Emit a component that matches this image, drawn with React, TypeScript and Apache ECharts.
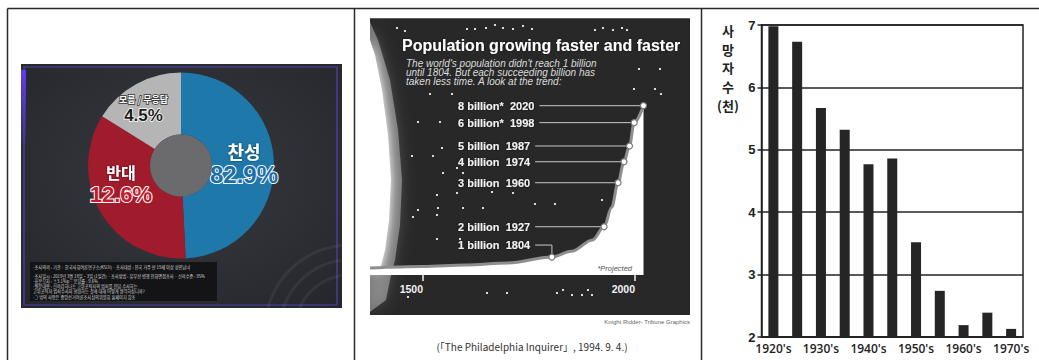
import React, { useEffect, useRef } from "react";
import * as echarts from "echarts";

// ---------- Panel 1: donut (poll) ----------
const pollNames = ["찬성", "반대", "모름 / 무응답"];
const pollPercents = [82.9, 12.6, 4.5];
// share of the ring each slice occupies as drawn in the picture
const pollDrawnShares = [49.2, 34.7, 16.1];
const pollColors = ["#1f78aa", "#a01c2c", "#b5b5b5"];
const footnoteLines = [
  "-조사의뢰 : 기관 · 한국사회여론연구소(KSOI) · 조사대상 : 전국 거주 만 19세 이상 성인남녀",
  "-조사일시 : 2019년 3월 18일 ~ 3일 (1일간) · 조사방법 : 유무선 병행 전화면접조사 · 신뢰수준 : 95%",
  "-표본오차 : ±3.1%p · 응답률 : 9.6%",
  "-질문내용 : 신뢰감하나는 고위공직자의 범죄를 전담 수사하는",
  "고위공직자 범죄수사처 설립하는 것에 대해 어떻게 생각하십니까?",
  "-그 밖의 사항은 중앙선거여론조사심의위원회 홈페이지 참조",
];

// ---------- Panel 2: population curve ----------
const curveYears = [1375, 1500, 1600, 1700, 1804, 1850, 1900, 1927, 1945, 1960, 1974, 1987, 1998, 2020];
// drawn height of the curve (0 = bottom of plot, 100 = top)
const curveLevels = [4.1, 5, 5.9, 7.1, 10.6, 14, 20.7, 28.5, 40, 54.5, 66.9, 76.2, 90, 100];
const milestoneYears = [1804, 1927, 1960, 1974, 1987, 1998, 2020];
const milestoneBillions = [1, 2, 3, 4, 5, 6, 8];
const milestoneProjected = [false, false, false, false, false, true, true];
const popTickYears = [1500, 2000];
const popTitle = "Population growing faster and faster";
const popSubtitle = [
  "The world's population didn't reach 1 billion",
  "until 1804. But each succeeding billion has",
  "taken less time. A look at the trend:",
];

// ---------- Panel 3: bar chart ----------
const periodLabels = ["1920's", "", "1930's", "", "1940's", "", "1950's", "", "1960's", "", "1970's"];
const deathsThousands = [6.98, 6.73, 5.67, 5.32, 4.77, 4.86, 3.52, 2.74, 2.19, 2.39, 2.13];
const deathsAxisName = ["사", "망", "자", "수", "(천)"];

// decorative star field of panel 2
const stars = [
  [397, 28], [405, 31], [467, 29], [475, 29], [486, 28], [495, 25], [503, 28], [513, 29], [523, 26], [532, 29],
  [595, 30], [603, 28], [613, 30], [622, 28], [627, 30], [639, 69], [660, 69], [634, 89], [655, 89], [661, 94],
  [430, 94], [452, 94], [418, 122], [440, 122], [442, 148], [433, 156], [412, 156], [457, 168], [443, 173],
  [463, 173], [437, 195], [492, 192], [513, 193], [457, 193], [535, 204], [555, 204], [418, 210], [438, 208],
  [463, 208], [483, 208], [413, 217], [437, 215], [602, 200], [437, 239], [460, 239],
  [408, 297], [487, 293], [507, 293], [557, 293], [563, 290], [572, 295], [582, 295], [588, 290], [592, 295],
];

const levelOf = (y: number) => curveLevels[curveYears.indexOf(y)];

function textEl(text: string, x: number, y: number, font: string, fill: string, align = "left", vAlign = "middle", z = 10, extra: any = {}) {
  return {
    type: "text",
    x,
    y,
    z,
    silent: true,
    style: { text, x: 0, y: 0, font, fill, align, textAlign: align, verticalAlign: vAlign, textVerticalAlign: vAlign, ...extra },
  };
}

export default function App() {
  const ref = useRef<HTMLDivElement>(null);

  useEffect(() => {
    const chart = echarts.init(ref.current!, null, { renderer: "svg" });

    const PIE_CX = 181;
    const PIE_CY = 165.5;
    const PIE_R0 = 31;
    const PIE_R1 = 93;

    const pieLabelFormats = [
      `{n|${pollNames[0]}}\n{bp|${pollPercents[0]}%}`,
      `{n2|${pollNames[1]}}\n{rp|${pollPercents[1]}%}`,
      `{s|${pollNames[2]}}\n{gp|${pollPercents[2]}%}`,
    ];

    const option: any = {
      animation: false,
      grid: [
        { left: 370, top: 105.7, width: 273.5, height: 169.3, outerBoundsMode: "none", containLabel: false },
        {
          left: 761.5, top: 25, width: 261.5, height: 312, show: true, borderColor: "#222", borderWidth: 1.5,
          backgroundColor: "transparent", outerBoundsMode: "none", containLabel: false,
        },
      ],
      xAxis: [
        {
          gridIndex: 0, type: "value", min: 1375, max: 2020,
          axisLine: { show: false }, splitLine: { show: false },
          axisTick: { show: true, customValues: popTickYears, length: 6, lineStyle: { color: "#f2f2f2", width: 1.5 } },
          axisLabel: {
            show: true, customValues: popTickYears, align: "right", margin: 8,
            formatter: (v: number) => String(v),
            color: "#f2f2f2", fontWeight: "bold", fontSize: 10.5, fontFamily: "Liberation Sans",
          },
        },
        {
          gridIndex: 1, type: "category", data: periodLabels.map((_, i) => String(i)),
          axisLine: { show: true, lineStyle: { color: "#222", width: 1.5 } },
          axisTick: { show: false }, splitLine: { show: false },
          axisLabel: {
            interval: 0, margin: 5, formatter: (_v: string, i: number) => periodLabels[i],
            color: "#222", fontSize: 12, fontWeight: 600, fontFamily: "Open Sans",
          },
        },
      ],
      yAxis: [
        { gridIndex: 0, type: "value", min: 0, max: 100, show: false },
        {
          gridIndex: 1, type: "value", min: 2, max: 7, interval: 1,
          axisLine: { show: true, lineStyle: { color: "#222", width: 1.5 } },
          axisTick: { show: true, length: 4, lineStyle: { color: "#222", width: 1.5 } },
          splitLine: { show: true, lineStyle: { color: "#222", width: 1.5 } },
          axisLabel: { margin: 6, color: "#222", fontSize: 13, fontWeight: "bold", fontFamily: "Liberation Sans" },
        },
      ],
      series: [
        {
          type: "pie",
          center: [PIE_CX, PIE_CY],
          radius: [PIE_R0, PIE_R1],
          startAngle: 90,
          clockwise: true,
          silent: true,
          z: 2,
          itemStyle: { borderWidth: 0 },
          emphasis: { disabled: true },
          labelLine: { show: false },
          label: {
            show: true,
            position: "inside",
            align: "center",
            rich: {
              n: {
                fontSize: 18, fontWeight: "bold", color: "#fff", lineHeight: 22, fontFamily: "Noto Sans CJK KR",
                textShadowColor: "rgba(0,0,0,0.6)", textShadowBlur: 2, align: "center",
              },
              bp: {
                fontSize: 24, fontWeight: "bold", color: "#1b6ea6", lineHeight: 26, fontFamily: "Liberation Sans",
                textBorderColor: "#ffffff", textBorderWidth: 2, align: "center",
              },
              n2: {
                fontSize: 16, fontWeight: "bold", color: "#fff", lineHeight: 20, fontFamily: "Noto Sans CJK KR",
                textShadowColor: "rgba(0,0,0,0.6)", textShadowBlur: 2, align: "center",
              },
              rp: {
                fontSize: 22, fontWeight: "bold", color: "#c41a2e", lineHeight: 25, fontFamily: "Liberation Sans",
                textBorderColor: "#ffffff", textBorderWidth: 2, align: "center",
              },
              s: {
                fontSize: 9, fontWeight: "bold", color: "#fff", lineHeight: 14, fontFamily: "Noto Sans CJK KR",
                textBorderColor: "#333", textBorderWidth: 1.5, align: "center",
              },
              gp: {
                fontSize: 17, fontWeight: "bold", color: "#1c1c1c", lineHeight: 19, fontFamily: "Liberation Sans",
                textBorderColor: "#ffffff", textBorderWidth: 1.5, align: "center",
              },
            },
          },
          labelLayout: (p: any) =>
            p.dataIndex === 0 ? { dx: -1 } : p.dataIndex === 1 ? { dx: -2, dy: -7 } : { dx: -3, dy: 0 },
          data: pollNames.map((name, i) => ({
            name,
            value: pollDrawnShares[i],
            itemStyle: { color: pollColors[i] },
            label: { formatter: pieLabelFormats[i] },
          })),
        },
        {
          type: "line",
          xAxisIndex: 0,
          yAxisIndex: 0,
          data: curveYears.map((y, i) => [y, curveLevels[i]]),
          smooth: 0.35,
          smoothMonotone: "x",
          symbol: "none",
          silent: true,
          z: 2,
          lineStyle: { color: "#8e8e8e", width: 3 },
          areaStyle: { color: "#ffffff", opacity: 1, origin: "start" },
        },
        {
          type: "scatter",
          xAxisIndex: 0,
          yAxisIndex: 0,
          data: milestoneYears.map((y) => [y, levelOf(y)]),
          symbol: "circle",
          symbolSize: 6,
          silent: true,
          z: 5,
          itemStyle: { color: "#ffffff", borderColor: "#7a7a7a", borderWidth: 1.2, opacity: 1 },
        },
        {
          type: "bar",
          xAxisIndex: 1,
          yAxisIndex: 1,
          data: deathsThousands,
          barWidth: 10,
          silent: true,
          itemStyle: { color: "#252525" },
        },
      ],
    };

    chart.setOption(option);

    const g: any[] = [];

    // ----- Panel 1 background -----
    g.push({
      type: "rect", z: -5, silent: true,
      shape: { x: 21, y: 64, width: 321, height: 244 },
      style: {
        fill: new echarts.graphic.RadialGradient(0.5, 0.45, 0.75, [
          { offset: 0, color: "#373a40" },
          { offset: 1, color: "#24262b" },
        ]),
      },
    });
    g.push({
      type: "rect", z: -4, silent: true,
      shape: { x: 24, y: 67, width: 313, height: 238 },
      style: { fill: "none", stroke: "rgba(95,75,215,0.75)", lineWidth: 1.2 },
    });
    g.push({
      type: "rect", z: -4, silent: true,
      shape: { x: 21, y: 70, width: 5, height: 75 },
      style: {
        fill: new echarts.graphic.LinearGradient(0, 0, 0, 1, [
          { offset: 0, color: "rgba(95,60,240,1)" },
          { offset: 1, color: "rgba(95,60,240,0.1)" },
        ]),
      },
    });
    [55, 70, 85].forEach((r) => {
      g.push({
        type: "arc", z: -4, silent: true,
        shape: { cx: 350, cy: 330, r, startAngle: Math.PI, endAngle: Math.PI * 1.5 },
        style: { fill: "none", stroke: "rgba(255,255,255,0.06)", lineWidth: 3 },
      });
    });
    // donut hole
    g.push({
      type: "circle", z: 3, silent: true,
      shape: { cx: PIE_CX, cy: PIE_CY, r: PIE_R0 },
      style: { fill: "#6b6b6d" },
    });
    // footnote box
    g.push({
      type: "rect", z: -3, silent: true,
      shape: { x: 30, y: 262, width: 187, height: 39 },
      style: { fill: "rgba(18,18,20,0.9)" },
    });
    const footY = [267, 275.5, 280.8, 286, 291.2, 296.5];
    footnoteLines.forEach((t, i) => {
      g.push(textEl(t, 33, footY[i], '4.2px "Noto Sans CJK KR"', "#d8d8d8", "left", "middle", 4));
    });

    // ----- Panel 2 background -----
    g.push({
      type: "rect", z: -5, silent: true,
      shape: { x: 370, y: 18.3, width: 320, height: 296.7 },
      style: { fill: "#282828" },
    });
    g.push({
      type: "polygon", z: -4, silent: true,
      shape: { points: [[370, 22], [378, 40], [390, 80], [398, 130], [402, 180], [400, 225], [395, 260], [390, 280], [386, 300], [370, 312]] },
      style: { fill: "rgba(255,255,255,0.35)", shadowBlur: 14, shadowColor: "rgba(255,255,255,0.5)" },
    });
    g.push({
      type: "polygon", z: -3, silent: true,
      shape: { points: [[370, 40], [375, 55], [382, 90], [388, 135], [391, 180], [389, 220], [385, 250], [380, 270], [370, 272]] },
      style: { fill: "#ffffff", shadowBlur: 10, shadowColor: "#ffffff" },
    });
    stars.forEach(([x, y]) => {
      g.push({ type: "circle", z: -2, silent: true, shape: { cx: x, cy: y, r: 1.1 }, style: { fill: "#f4f4f4" } });
    });
    g.push(textEl(popTitle, 402, 45, 'bold 16px "Liberation Sans"', "#ffffff", "left", "middle", 10, {
      textShadowColor: "rgba(0,0,0,0.6)", textShadowBlur: 2,
    }));
    popSubtitle.forEach((t, i) => {
      g.push(textEl(t, 406, 63 + i * 9, 'italic 10px "Liberation Sans"', "#dcdcdc", "left", "middle", 10));
    });
    g.push(textEl("*Projected", 632, 268, 'italic 7.5px "Liberation Sans"', "#555", "right", "middle", 10));
    g.push(textEl("Knight Ridder- Tribune Graphics", 690, 322, '6px "Liberation Sans"', "#666", "right", "middle", 10));
    g.push(textEl("(「The Philadelphia Inquirer」, 1994. 9. 4.)", 532, 346, '10px "Noto Sans CJK KR"', "#333", "center", "middle", 10));

    // milestone labels and leader lines (positions from the chart's own scales)
    const ctx = document.createElement("canvas").getContext("2d");
    const labelFont = 'bold 11px "Liberation Sans"';
    if (ctx) ctx.font = labelFont;
    milestoneYears.forEach((yr, i) => {
      const pt = chart.convertToPixel({ gridIndex: 0 }, [yr, levelOf(yr)]) as number[];
      const raise = i === 0 ? 12 : 0;
      const ly = pt[1] - raise;
      const txt = `${milestoneBillions[i]} billion${milestoneProjected[i] ? "*" : ""} \u00a0${yr}`;
      const w = ctx ? ctx.measureText(txt).width : 75;
      const lx0 = 458 + w + 5;
      g.push(textEl(txt, 458, ly, labelFont, "#f2f2f2", "left", "middle", 10, {
        textShadowColor: "rgba(0,0,0,0.7)", textShadowBlur: 2,
      }));
      if (raise > 0) {
        g.push({
          type: "polyline", z: 4, silent: true,
          shape: { points: [[lx0, ly], [pt[0], ly], [pt[0], pt[1] - 3]] },
          style: { stroke: "#c8c8c8", lineWidth: 1, fill: "none" },
        });
      } else {
        g.push({
          type: "line", z: 4, silent: true,
          shape: { x1: lx0, y1: ly, x2: pt[0] - 3, y2: ly },
          style: { stroke: "#c8c8c8", lineWidth: 1 },
        });
      }
    });

    // ----- Panel 3 axis name -----
    g.push(textEl(deathsAxisName.join("\n"), 728, 21, 'bold 13px "Noto Sans CJK KR"', "#222", "center", "top", 10, {
      lineHeight: 18.7,
    }));

    // ----- table borders -----
    const border = { stroke: "#2a2a2a", lineWidth: 1.5 };
    g.push({ type: "line", z: 20, silent: true, shape: { x1: 7.5, y1: 8.5, x2: 1039, y2: 8.5 }, style: border });
    g.push({ type: "line", z: 20, silent: true, shape: { x1: 7.5, y1: 8.5, x2: 7.5, y2: 360 }, style: border });
    g.push({ type: "line", z: 20, silent: true, shape: { x1: 354.5, y1: 8.5, x2: 354.5, y2: 360 }, style: border });
    g.push({ type: "line", z: 20, silent: true, shape: { x1: 701.5, y1: 8.5, x2: 701.5, y2: 360 }, style: border });

    chart.setOption({ graphic: { elements: g } });

    return () => chart.dispose();
  }, []);

  return (
    <div
      ref={ref}
      style={{ position: "fixed", left: 0, top: 0, width: 1039, height: 360, background: "#ffffff" }}
    />
  );
}
